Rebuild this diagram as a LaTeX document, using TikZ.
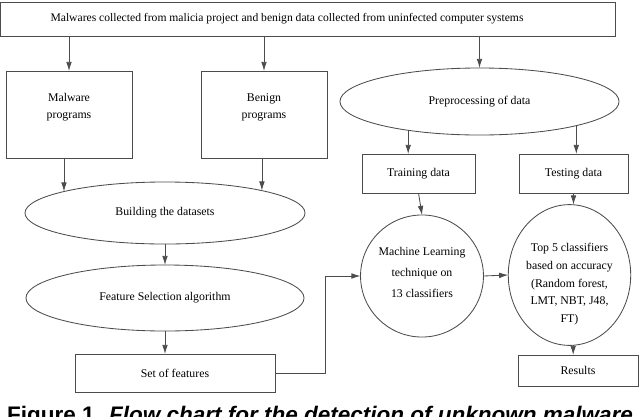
\documentclass[tikz,border=0pt]{standalone}
\usepackage{fontspec}
\setmainfont{Liberation Serif}
\newfontfamily\captionfont{Liberation Sans}
\usetikzlibrary{shapes.geometric,arrows.meta}

\tikzset{
    box/.style = {draw = black!70, line width = 0.6pt, inner sep = 0pt, outer sep = 0pt,
                  align = center, font = \fontsize{8.4}{12}\selectfont},
    oval/.style = {box, ellipse},
    link/.style = {->, draw = black!70, line width = 0.6pt}
}

\begin{document}
\begin{tikzpicture}[x = 0.025cm, y = -0.025cm, >={Latex[length=6.5pt,width=4pt]}]
    \useasboundingbox (0,0) rectangle (640,416);
    % boxes and ovals
    \node (source) at (308,19) [box, minimum width = 15.35cm, minimum height = 0.85cm, font = \fontsize{8.25}{12}\selectfont]
        {Malwares collected from malicia project and benign data collected from uninfected computer systems\hspace*{1.05cm}};
    \node (malware) at (69,114.5) [box, minimum width = 3.15cm, minimum height = 2.175cm, text depth = 11.8pt] {Malware\\programs};
    \node (benign) at (264,114.5) [box, minimum width = 3.15cm, minimum height = 2.175cm, text depth = 11.8pt] {Benign\\programs};
    \node (prep) at (479.5,101.5) [oval, minimum width = 6.975cm, minimum height = 1.675cm] {Preprocessing of data};
    \node (training) at (418.5,173.5) [box, minimum width = 2.825cm, minimum height = 0.975cm] {Training data};
    \node (testing) at (573.5,173.5) [box, minimum width = 2.725cm, minimum height = 0.975cm] {Testing data};
    \node (building) at (165,213) [oval, minimum width = 7cm, minimum height = 1.55cm] {Building the datasets};
    \node (feature) at (165,298) [oval, minimum width = 6.95cm, minimum height = 1.65cm] {Feature Selection algorithm};
    \node (set) at (175,373) [box, minimum width = 5cm, minimum height = 0.95cm] {Set of features};
    \node (ml) at (422,276) [oval, minimum width = 3.05cm, minimum height = 3.05cm,
        font = \fontsize{8.4}{15}\selectfont, text depth = 5.6pt] {Machine Learning\\technique on\\13 classifiers};
    \node (top5) at (569.5,275) [oval, minimum width = 2.975cm, minimum height = 3cm,
        font = \fontsize{8.4}{12.5}\selectfont, text height = 69pt]
        {Top 5 classifiers\\based on accuracy\\(Random forest,\\LMT, NBT, J48,\\FT)};
    \node (results) at (578,370.5) [box, minimum width = 3cm, minimum height = 0.775cm] {Results};
    % arrows
    \draw [link] (malware |- source.south) -- (malware.north);
    \draw [link] (benign |- source.south) -- (benign.north);
    \draw [link] (prep |- source.south) -- (prep.north);
    \draw [link] (building.168.5 |- malware.south) -- (building.168.5);
    \draw [link] (building.13 |- benign.south) -- (building.13);
    \draw [link] (building.south) -- (feature.north);
    \draw [link] (feature.south) -- (feature.south |- set.north);
    \draw [link] (set.east) -| ([xshift=-0.875cm]ml.west) -- (ml.west);
    \draw [link] (prep.202.6) -- (prep.202.6 |- training.north);
    \draw [link] (prep.-14.3) -- (prep.-14.3 |- testing.north);
    \draw [link] (training.south) -- (ml.north);
    \draw [link] (testing.south) -- (testing.south |- top5.north);
    \draw [link] (ml.east) -- (top5.west);
    \draw [link] (top5.-87) -- (top5.-87 |- results.north);
    % caption, cut by the page edge
    \node (caption) at (320,422) [anchor = base, font = \captionfont\bfseries\fontsize{16}{18}\selectfont]
        {Figure 1. \textit{Flow chart for the detection of unknown malware}};
\end{tikzpicture}
\end{document}
